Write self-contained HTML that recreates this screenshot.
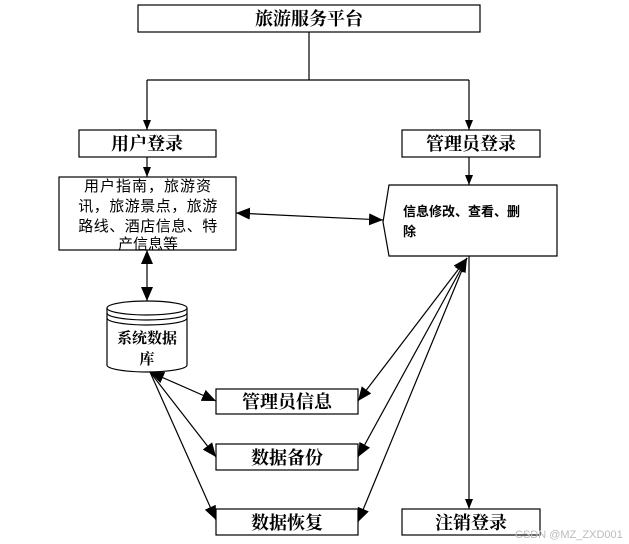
<!DOCTYPE html>
<html><head><meta charset="utf-8"><style>
html,body{margin:0;padding:0;background:#fff;width:629px;height:544px;overflow:hidden}
text{font-family:"Liberation Serif","Noto Serif CJK SC",serif;fill:#000}
</style></head><body>
<svg width="629" height="544" viewBox="0 0 629 544" xmlns="http://www.w3.org/2000/svg">
<defs>
<marker id="a" markerWidth="10" markerHeight="8" refX="10" refY="4" orient="auto" markerUnits="userSpaceOnUse"><path d="M0,0 L10,4 L0,8 z" fill="#000"/></marker>
<marker id="b" markerWidth="14" markerHeight="12" refX="14" refY="6" orient="auto" markerUnits="userSpaceOnUse"><path d="M0,0 L14,6 L0,12 z" fill="#000"/></marker>
<marker id="bs" markerWidth="14" markerHeight="12" refX="0" refY="6" orient="auto" markerUnits="userSpaceOnUse"><path d="M14,0 L0,6 L14,12 z" fill="#000"/></marker>
</defs>
<g stroke="#000" fill="none" stroke-width="1.2">
<rect x="138" y="5" width="342" height="27" fill="#fff"/>
<rect x="79" y="130" width="137" height="27"/>
<rect x="402" y="130" width="138" height="27"/>
<rect x="59" y="177" width="177" height="73"/>
<path d="M389,185 L557,185 L557,256 L389,256 L383,222 Z"/>
<rect x="216" y="389" width="142" height="25"/>
<rect x="216" y="444" width="142" height="26"/>
<rect x="216" y="509" width="142" height="26"/>
<rect x="402" y="509" width="138" height="26"/>
<path d="M107,308 L107,365 A40,7 0 0 0 187,365 L187,308"/>
<ellipse cx="147" cy="308" rx="40" ry="7" fill="#fff"/>
<path d="M107,313 A40,7 0 0 0 187,313 M107,318 A40,7 0 0 0 187,318"/>
<path d="M309,32 V80 M147,80 H469"/>
<path d="M147,80 V130" marker-end="url(#a)"/>
<path d="M469,80 V130" marker-end="url(#a)"/>
<path d="M147,157 V177" marker-end="url(#a)"/>
<path d="M469,157 V185" marker-end="url(#a)"/>
<path d="M236,213 L383,220" marker-start="url(#bs)" marker-end="url(#b)"/>
<path d="M147,250 V301" marker-start="url(#bs)" marker-end="url(#b)"/>
<path d="M469,256 V509" marker-end="url(#a)"/>
<path d="M358,401 L467,258" marker-start="url(#bs)" marker-end="url(#b)"/>
<path d="M358,457 L467,258" marker-end="url(#b)" marker-start="url(#bs)"/>
<path d="M358,522 L467,258" marker-start="url(#bs)"/>
<path d="M150,372 L216,401" marker-start="url(#bs)" marker-end="url(#b)"/>
<path d="M150,372 L216,457" marker-end="url(#b)"/>
<path d="M150,372 L216,520" marker-end="url(#b)"/>
</g>
<g font-weight="bold" text-anchor="middle" font-size="18">
<text x="309" y="25">旅游服务平台</text>
<text x="147" y="150">用户登录</text>
<text x="471" y="150">管理员登录</text>
<text x="287" y="408">管理员信息</text>
<text x="287" y="464">数据备份</text>
<text x="287" y="529">数据恢复</text>
<text x="471" y="529">注销登录</text>
</g>
<g text-anchor="middle" font-size="15" style="font-family:'Liberation Sans','Noto Sans CJK SC',sans-serif">
<text x="148" y="191" style="font-family:'Liberation Sans','Noto Sans CJK SC',sans-serif;letter-spacing:1px">用户指南，旅游资</text>
<text x="148" y="211" style="font-family:'Liberation Sans','Noto Sans CJK SC',sans-serif;letter-spacing:0.5px">讯，旅游景点，旅游</text>
<text x="148" y="231" style="font-family:'Liberation Sans','Noto Sans CJK SC',sans-serif;letter-spacing:0.5px">路线、酒店信息、特</text>
<text x="148" y="249" style="font-family:'Liberation Sans','Noto Sans CJK SC',sans-serif">产信息等</text>
</g>
<g font-weight="bold" font-size="13" style="font-family:'Liberation Sans','Noto Sans CJK SC',sans-serif">
<text x="403" y="216" style="font-family:'Liberation Sans','Noto Sans CJK SC',sans-serif;font-weight:bold">信息修改、查看、删</text>
<text x="403" y="236" style="font-family:'Liberation Sans','Noto Sans CJK SC',sans-serif;font-weight:bold">除</text>
</g>
<g font-weight="bold">
<text x="147" y="343" font-size="15" text-anchor="middle">系统数据</text>
<text x="147" y="364" font-size="15" text-anchor="middle">库</text>
</g>
<text x="515" y="538" font-size="11" style="fill:#bbb;font-family:'Liberation Sans',sans-serif">CSDN @MZ_ZXD001</text>
</svg>
</body></html>
